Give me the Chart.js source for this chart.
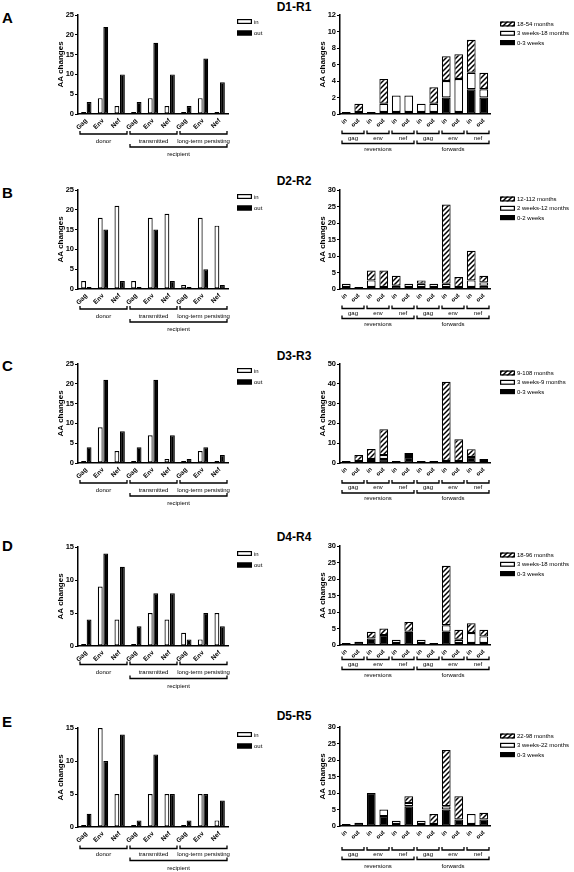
<!DOCTYPE html>
<html>
<head>
<meta charset="utf-8">
<script src="https://cdn.jsdelivr.net/npm/chart.js"></script>
<style>
  body { margin: 0; background: #fff; }
  #page { position: relative; width: 574px; height: 872px; overflow: hidden; font-family: "Liberation Sans", Arial, sans-serif; }
  #page canvas { position: absolute; }
  .letter { position: absolute; left: 2px; font-weight: bold; font-size: 15px; line-height: 15px; }
  .title { position: absolute; font-weight: bold; font-size: 12px; line-height: 12px; transform: translateX(-50%); white-space: nowrap; }
</style>
</head>
<body>
<div id="page"></div>
<script>
// categories
var geneLabels = ["Gag", "Env", "Nef", "Gag", "Env", "Nef", "Gag", "Env", "Nef"];
var sampleGroups = ["donor", "transmitted", "long-term persisting"];
var recipientLabel = "recipient";
var dirLabels = ["in", "out", "in", "out", "in", "out", "in", "out", "in", "out", "in", "out"];
var genes = ["gag", "env", "nef"];
var changeGroups = ["reversions", "forwards"];
var seriesNames = ["in", "out"];

// D1-R1
var d1In = [0, 4, 2, 0, 4, 2, 0, 4, 0];
var d1Out = [3, 22, 10, 3, 18, 10, 2, 14, 8];
var d1Periods = ["0-3 weeks", "3 weeks-18 months", "18-54 months"];
var d1Early = [0, 0, 0, 0, 0, 0, 0, 0, 2, 0, 3, 2];
var d1Mid = [0, 0, 0, 1, 2, 2, 1, 1, 2, 4, 2, 1];
var d1Late = [0, 1, 0, 3, 0, 0, 0, 2, 3, 3, 4, 2];

// D2-R2
var d2In = [2, 18, 21, 2, 18, 19, 1, 18, 16];
var d2Out = [0, 15, 2, 0, 15, 2, 0, 5, 1];
var d2Periods = ["0-2 weeks", "2 weeks-12 months", "12-112 months"];
var d2Early = [0, 0, 0, 0, 1, 0, 0, 0, 0, 0, 0, 1];
var d2Mid = [1, 0, 2, 0, 0, 1, 1, 1, 1, 0, 2, 1];
var d2Late = [0, 0, 3, 5, 3, 0, 1, 0, 24, 3, 9, 2];

// D3-R3
var d3In = [0, 9, 3, 0, 7, 1, 0, 3, 0];
var d3Out = [4, 21, 8, 4, 21, 7, 1, 4, 2];
var d3Periods = ["0-3 weeks", "3 weeks-9 months", "9-108 months"];
var d3Early = [0, 1, 0, 2, 1, 3, 0, 0, 1, 0, 3, 1];
var d3Mid = [0, 0, 1, 2, 0, 1, 0, 0, 0, 0, 0, 0];
var d3Late = [0, 3, 5, 13, 0, 1, 0, 0, 40, 11, 4, 1];

// D4-R4
var d4In = [0, 9, 4, 0, 5, 4, 2, 1, 5];
var d4Out = [4, 14, 12, 3, 8, 8, 1, 5, 3];
var d4Periods = ["0-3 weeks", "3 weeks-18 months", "18-96 months"];
var d4Early = [0, 1, 2, 3, 0, 4, 0, 0, 4, 0, 0, 0];
var d4Mid = [0, 0, 0, 0, 1, 0, 1, 0, 2, 1, 3, 2];
var d4Late = [0, 0, 2, 2, 0, 3, 0, 0, 18, 3, 3, 2];

// D5-R5
var d5In = [0, 15, 5, 0, 5, 5, 0, 5, 1];
var d5Out = [2, 10, 14, 1, 11, 5, 1, 5, 4];
var d5Periods = ["0-3 weeks", "3 weeks-22 months", "22-98 months"];
var d5Early = [0, 1, 10, 3, 0, 6, 0, 0, 5, 2, 0, 2];
var d5Mid = [0, 0, 0, 2, 1, 1, 1, 0, 1, 0, 3, 0];
var d5Late = [0, 0, 0, 0, 0, 2, 0, 3, 17, 7, 0, 2];

Chart.defaults.font.family = '"Liberation Sans", Arial, sans-serif';
Chart.defaults.color = "#000";

var page = document.getElementById("page");

// diagonal hatch used for the late period
var hatch = (function() {
  var c = document.createElement("canvas");
  c.width = 5;
  c.height = 5;
  var g = c.getContext("2d");
  g.fillStyle = "#fff";
  g.fillRect(0, 0, 5, 5);
  g.strokeStyle = "#000";
  g.lineWidth = 1.5;
  g.beginPath();
  g.moveTo(-1, 6); g.lineTo(6, -1);
  g.moveTo(-1, 1); g.lineTo(1, -1);
  g.moveTo(4, 6); g.lineTo(6, 4);
  g.stroke();
  return g.createPattern(c, "repeat");
})();

// brackets under the x axis + the little legend at the right
var extras = {
  id: "extras",
  afterDraw: function(chart, args, opts) {
    var ctx = chart.ctx;
    var xs = chart.scales.x;
    var area = chart.chartArea;
    var half = (xs.getPixelForValue(1) - xs.getPixelForValue(0)) / 2;
    ctx.save();
    ctx.strokeStyle = "#000";
    ctx.fillStyle = "#000";
    ctx.lineWidth = 1.3;
    ctx.font = '6px "Liberation Sans", Arial, sans-serif';
    ctx.textAlign = "center";
    ctx.textBaseline = "middle";
    opts.levels.forEach(function(level, i) {
      var yb = area.bottom + opts.offsets[i * 2];
      var yt = area.bottom + opts.offsets[i * 2 + 1];
      level.forEach(function(g) {
        var x0 = xs.getPixelForValue(g.from) - half + 2;
        var x1 = xs.getPixelForValue(g.to) + half - 1;
        ctx.beginPath();
        ctx.moveTo(x0, yb - 3);
        ctx.lineTo(x0, yb);
        ctx.lineTo(x1, yb);
        ctx.lineTo(x1, yb - 3);
        ctx.stroke();
        ctx.fillText(g.label, (x0 + x1) / 2, yt);
      });
    });

    var items = chart.data.datasets.slice();
    if (opts.reverse) items.reverse();
    ctx.textAlign = "left";
    items.forEach(function(ds, i) {
      var y = area.top + opts.legendTop + i * opts.legendStep;
      ctx.fillStyle = ds.backgroundColor;
      ctx.fillRect(opts.legendX, y - 2.5, 15, 5);
      ctx.lineWidth = 1.2;
      ctx.strokeRect(opts.legendX + 0.6, y - 1.9, 13.8, 3.8);
      ctx.fillStyle = "#000";
      ctx.fillText(ds.label, opts.legendX + 17, y + 0.5);
    });
    ctx.restore();
  }
};

function addText(cls, text, left, top) {
  var d = document.createElement("div");
  d.className = cls;
  d.textContent = text;
  d.style.left = left + "px";
  d.style.top = top + "px";
  page.appendChild(d);
}

function makeCanvas(left, top, w, h) {
  var c = document.createElement("canvas");
  c.width = w;
  c.height = h;
  c.style.left = left + "px";
  c.style.top = top + "px";
  c.style.width = w + "px";
  c.style.height = h + "px";
  page.appendChild(c);
  return c;
}

function yScale(max, step, stacked) {
  return {
    stacked: stacked,
    min: 0,
    max: max,
    ticks: { stepSize: step, color: "#000", font: { size: 7.5, weight: "bold" }, padding: 1 },
    grid: { drawOnChartArea: false, drawTicks: true, tickLength: 3, color: "#000", lineWidth: 1 },
    border: { color: "#000", width: 1.5 },
    title: { display: true, text: "AA changes", color: "#000", font: { size: 8, weight: "bold" }, padding: { top: 18, bottom: 0 } },
    afterFit: function(s) { s.width = 40; }
  };
}

function xScale(size, stacked) {
  return {
    stacked: stacked,
    ticks: { color: "#000", font: { size: size, weight: "bold" }, minRotation: 45, maxRotation: 45, autoSkip: false, padding: 3 },
    grid: { drawOnChartArea: false, drawTicks: false },
    border: { color: "#000", width: 1.5 },
    afterFit: function(s) { s.height = 24; }
  };
}

function leftChart(plotTop, inVals, outVals, yMax, offs) {
  var cv = makeCanvas(38, plotTop - 6, 252, 160);
  new Chart(cv, {
    type: "bar",
    data: {
      labels: geneLabels,
      datasets: [
        { label: seriesNames[0], data: inVals, backgroundColor: "#fff", borderColor: "#000", borderWidth: 1.2, borderSkipped: false, minBarLength: 2 },
        { label: seriesNames[1], data: outVals, backgroundColor: "#000", borderColor: "#000", borderWidth: 1.2, borderSkipped: false, minBarLength: 2 }
      ]
    },
    options: {
      responsive: false,
      animation: false,
      devicePixelRatio: 1,
      events: [],
      categoryPercentage: 0.66,
      barPercentage: 0.88,
      layout: { padding: { top: 6, left: 0, right: 62, bottom: 31 } },
      scales: { x: xScale(6.5, false), y: yScale(yMax, 5, false) },
      plugins: {
        legend: { display: false },
        tooltip: { enabled: false },
        extras: {
          levels: [
            [{ from: 0, to: 2, label: sampleGroups[0] }, { from: 3, to: 5, label: sampleGroups[1] }, { from: 6, to: 8, label: sampleGroups[2] }],
            [{ from: 3, to: 8, label: recipientLabel }]
          ],
          offsets: offs,
          legendX: 199, legendTop: 6.5, legendStep: 11.5, reverse: false
        }
      }
    },
    plugins: [extras]
  });
}

function rightChart(plotTop, periods, early, mid, late, yMax, step, offs) {
  var cv = makeCanvas(300, plotTop - 6, 274, 160);
  var ds = function(label, vals, fill, minLen) {
    return { label: label, data: vals, backgroundColor: fill, borderColor: "#000", borderWidth: 1.2, borderSkipped: false, minBarLength: minLen };
  };
  new Chart(cv, {
    type: "bar",
    data: {
      labels: dirLabels,
      datasets: [
        ds(periods[0], early, "#000", 2),
        ds(periods[1], mid, "#fff", 0),
        ds(periods[2], late, hatch, 0)
      ]
    },
    options: {
      responsive: false,
      animation: false,
      devicePixelRatio: 1,
      events: [],
      categoryPercentage: 0.7,
      barPercentage: 1,
      layout: { padding: { top: 6, left: 0, right: 84, bottom: 31 } },
      scales: { x: xScale(6, true), y: yScale(yMax, step, true) },
      plugins: {
        legend: { display: false },
        tooltip: { enabled: false },
        extras: {
          levels: [
            [{ from: 0, to: 1, label: genes[0] }, { from: 2, to: 3, label: genes[1] }, { from: 4, to: 5, label: genes[2] },
             { from: 6, to: 7, label: genes[0] }, { from: 8, to: 9, label: genes[1] }, { from: 10, to: 11, label: genes[2] }],
            [{ from: 0, to: 5, label: changeGroups[0] }, { from: 6, to: 11, label: changeGroups[1] }]
          ],
          offsets: offs,
          legendX: 200, legendTop: 9, legendStep: 9.3, reverse: true
        }
      }
    },
    plugins: [extras]
  });
}

// row A
addText("letter", "A", 2, 10);
addText("title", "D1-R1", 294, 1);
leftChart(15, d1In, d1Out, 25, [20, 27.5, 33, 40.5]);
rightChart(15, d1Periods, d1Early, d1Mid, d1Late, 12, 2, [19.5, 24.5, 29.5, 35.5]);

// row B
addText("letter", "B", 2, 185);
addText("title", "D2-R2", 294, 175);
leftChart(190, d2In, d2Out, 25, [20, 27.5, 33, 40.5]);
rightChart(190, d2Periods, d2Early, d2Mid, d2Late, 30, 5, [19.5, 24, 29.5, 35.5]);

// row C
addText("letter", "C", 2, 358);
addText("title", "D3-R3", 294, 350);
leftChart(364, d3In, d3Out, 25, [20, 27.5, 33, 40.5]);
rightChart(364, d3Periods, d3Early, d3Mid, d3Late, 50, 10, [20, 24.5, 30, 35.5]);

// row D
addText("letter", "D", 2, 538);
addText("title", "D4-R4", 294, 531);
leftChart(547, d4In, d4Out, 15, [18.5, 26, 32.5, 40]);
rightChart(546, d4Periods, d4Early, d4Mid, d4Late, 30, 5, [14.5, 19.5, 24.5, 30]);

// row E
addText("letter", "E", 2, 714);
addText("title", "D5-R5", 294, 710);
leftChart(728, d5In, d5Out, 15, [21.5, 27.5, 33.5, 41]);
rightChart(727, d5Periods, d5Early, d5Mid, d5Late, 30, 5, [24, 28.5, 33.5, 40.5]);
</script>
</body>
</html>
